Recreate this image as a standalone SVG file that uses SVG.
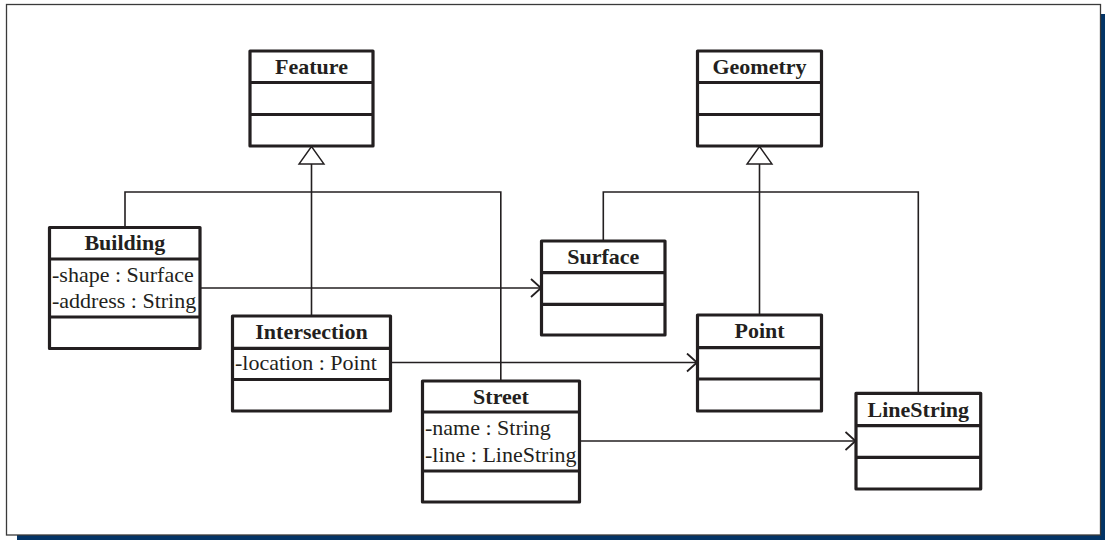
<svg xmlns="http://www.w3.org/2000/svg" width="1105" height="540" viewBox="0 0 1105 540">
  <style>
    .box { fill: #ffffff; stroke: #231f20; stroke-width: 3.2; stroke-linejoin: round; }
    .sep { stroke: #231f20; stroke-width: 3.2; }
    .title { font-family: "Liberation Serif", "Times New Roman", serif; font-size: 22px; font-weight: bold; fill: #231f20; text-anchor: middle; }
    .attr { font-family: "Liberation Serif", "Times New Roman", serif; font-size: 22px; fill: #231f20; }
    .link { fill: none; stroke: #231f20; stroke-width: 1.6; }
    .gen { fill: #ffffff; stroke: #231f20; stroke-width: 1.4; stroke-linejoin: miter; }
  </style>
  <defs>
    <marker id="open-arrow" markerUnits="userSpaceOnUse" markerWidth="14" markerHeight="22" refX="11" refY="10" orient="auto">
      <path d="M1,1 L11,10 L1,19" fill="none" stroke="#231f20" stroke-width="1.8"/>
    </marker>
  </defs>

  <!-- page frame with drop shadow -->
  <rect x="17" y="14" width="1088" height="526" fill="#033466"/>
  <rect x="6.5" y="4.5" width="1094" height="530.5" fill="#ffffff" stroke="#3a3a3a" stroke-width="1.3"/>

  <!-- connectors -->
  <g id="connectors">
    <!-- generalization to Feature -->
    <path class="link" d="M311.5,164 V316"/>
    <path class="link" d="M125,227.5 V192 H500.8 V381"/>
    <polygon class="gen" points="311.5,146.5 299,164 324,164"/>
    <!-- generalization to Geometry -->
    <path class="link" d="M759.5,164 V315"/>
    <path class="link" d="M603.3,241 V192 H918.3 V393.3"/>
    <polygon class="gen" points="759.5,146.5 747,164 772,164"/>
    <!-- associations -->
    <path class="link" d="M200,288 H541" marker-end="url(#open-arrow)"/>
    <path class="link" d="M390.7,362.5 H697" marker-end="url(#open-arrow)"/>
    <path class="link" d="M579.3,441 H855.5" marker-end="url(#open-arrow)"/>
  </g>

  <g id="feature">
    <rect class="box" x="250" y="51" width="123" height="95"/>
    <line class="sep" x1="250" y1="82.5" x2="373" y2="82.5"/>
    <line class="sep" x1="250" y1="114.5" x2="373" y2="114.5"/>
    <text class="title" x="311.5" y="73.5">Feature</text>
  </g>

  <g id="geometry">
    <rect class="box" x="697.5" y="51" width="124" height="95"/>
    <line class="sep" x1="697.5" y1="82.5" x2="821.5" y2="82.5"/>
    <line class="sep" x1="697.5" y1="114.5" x2="821.5" y2="114.5"/>
    <text class="title" x="759.5" y="73.5">Geometry</text>
  </g>

  <g id="building">
    <rect class="box" x="49.5" y="227.5" width="150.5" height="121"/>
    <line class="sep" x1="49.5" y1="259" x2="200" y2="259"/>
    <line class="sep" x1="49.5" y1="317" x2="200" y2="317"/>
    <text class="title" x="124.8" y="250">Building</text>
    <text class="attr" x="52" y="281.7">-shape : Surface</text>
    <text class="attr" x="52" y="307.7">-address : String</text>
  </g>

  <g id="intersection">
    <rect class="box" x="232.5" y="316" width="158" height="95"/>
    <line class="sep" x1="232.5" y1="348.3" x2="390.5" y2="348.3"/>
    <line class="sep" x1="232.5" y1="379.5" x2="390.5" y2="379.5"/>
    <text class="title" x="311.5" y="338.5">Intersection</text>
    <text class="attr" x="235" y="370">-location : Point</text>
  </g>

  <g id="street">
    <rect class="box" x="422.5" y="381" width="157" height="121"/>
    <line class="sep" x1="422.5" y1="412" x2="579.5" y2="412"/>
    <line class="sep" x1="422.5" y1="471" x2="579.5" y2="471"/>
    <text class="title" x="501" y="403.5">Street</text>
    <text class="attr" x="425" y="435">-name : String</text>
    <text class="attr" x="425" y="461.7">-line : LineString</text>
  </g>

  <g id="surface">
    <rect class="box" x="541.5" y="241" width="123.5" height="94"/>
    <line class="sep" x1="541.5" y1="272.7" x2="665" y2="272.7"/>
    <line class="sep" x1="541.5" y1="304.3" x2="665" y2="304.3"/>
    <text class="title" x="603.3" y="264">Surface</text>
  </g>

  <g id="point">
    <rect class="box" x="697.5" y="315" width="124" height="96"/>
    <line class="sep" x1="697.5" y1="347.7" x2="821.5" y2="347.7"/>
    <line class="sep" x1="697.5" y1="379" x2="821.5" y2="379"/>
    <text class="title" x="759.5" y="338">Point</text>
  </g>

  <g id="linestring">
    <rect class="box" x="856" y="393.3" width="124.7" height="95.7"/>
    <line class="sep" x1="856" y1="425.7" x2="980.7" y2="425.7"/>
    <line class="sep" x1="856" y1="457.3" x2="980.7" y2="457.3"/>
    <text class="title" x="918.3" y="416.5">LineString</text>
  </g>
</svg>
